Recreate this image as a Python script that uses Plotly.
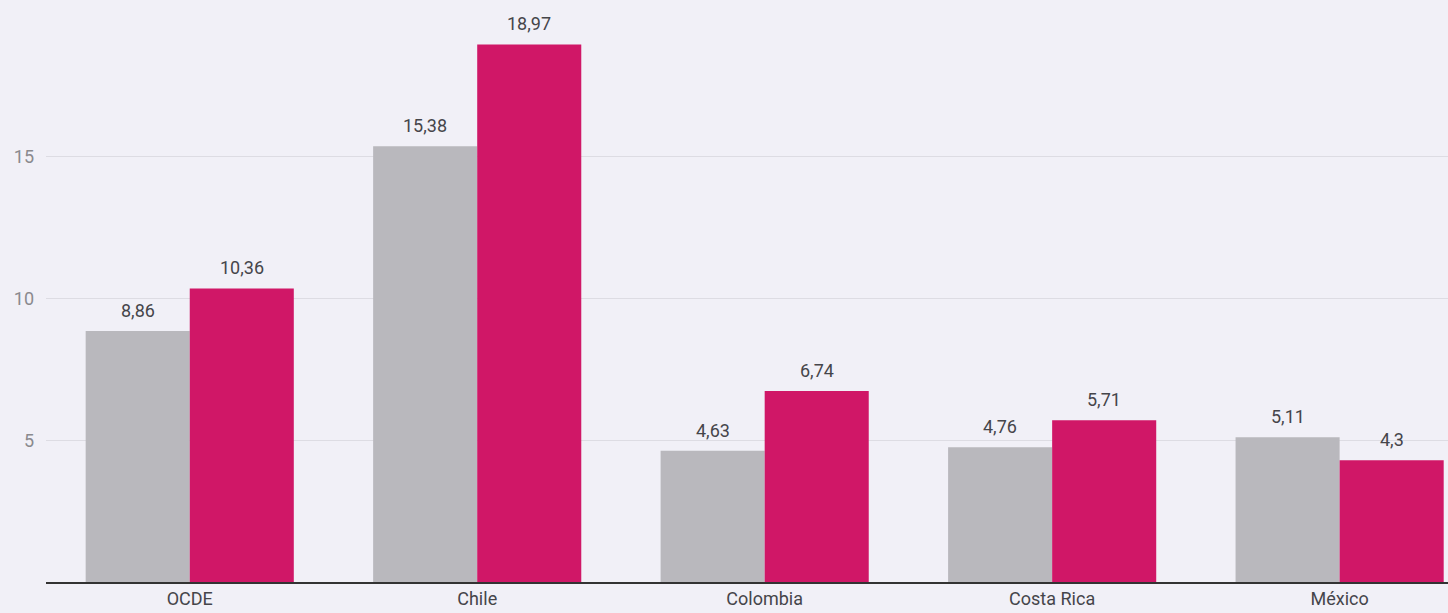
import plotly.graph_objects as go

categories = ["OCDE", "Chile", "Colombia", "Costa Rica", "México"]
serie_a = [8.86, 15.38, 4.63, 4.76, 5.11]
serie_b = [10.36, 18.97, 6.74, 5.71, 4.3]
y_ticks = [5, 10, 15]

GRAY = "#b9b8bd"
MAGENTA = "#d01767"
BG = "#f1f0f7"


def fmt(v):
    s = f"{v:.2f}".rstrip("0").rstrip(".")
    return s.replace(".", ",")


x_idx = list(range(len(categories)))

fig = go.Figure()
fig.add_trace(go.Bar(x=x_idx, y=serie_a, marker_color=GRAY, marker_line_width=0, name="a"))
fig.add_trace(go.Bar(x=x_idx, y=serie_b, marker_color=MAGENTA, marker_line_width=0, name="b"))

annotations = []
for i, (a, b) in enumerate(zip(serie_a, serie_b)):
    for v, shift in ((a, -52), (b, 52)):
        annotations.append(dict(
            x=i, y=v, xref="x", yref="y", text=fmt(v), showarrow=False,
            xshift=shift, yanchor="bottom", yshift=8,
            font=dict(family="Roboto", size=18, color="#45454a"),
        ))

fig.update_layout(
    width=1448, height=613,
    margin=dict(l=46, r=0, t=0, b=31),
    paper_bgcolor=BG, plot_bgcolor=BG,
    barmode="group", bargap=0.276, bargroupgap=0,
    showlegend=False,
    annotations=annotations,
    xaxis=dict(
        tickmode="array", tickvals=x_idx, ticktext=categories,
        range=[-0.5, 4.377], showgrid=False, zeroline=False,
        showline=True, linecolor="#333333", linewidth=1.5,
        ticks="", ticklabelstandoff=0, automargin=False,
        tickfont=dict(family="Roboto", size=18, color="#45454a"),
    ),
    yaxis=dict(
        range=[0, 20.54], tickvals=y_ticks, showgrid=True,
        gridcolor="#dddce3", gridwidth=1, zeroline=False, showline=False,
        ticks="", ticklabelstandoff=11, automargin=False,
        tickfont=dict(family="Roboto", size=18, color="#8a8a8e"),
    ),
)

fig.write_html("out.html")
